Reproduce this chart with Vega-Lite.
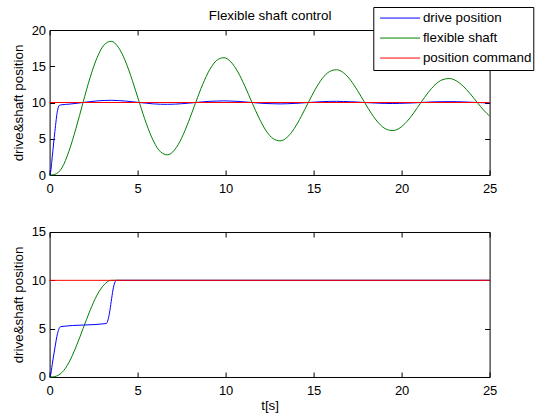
{
  "$schema": "https://vega.github.io/schema/vega-lite/v6.json",
  "padding": {"left": 10.6, "top": 6, "right": 0, "bottom": 0},
  "background": "white",
  "config": {
    "font": "Liberation Sans",
    "view": {"stroke": "black", "strokeWidth": 1},
    "axis": {
      "grid": false, "domain": false, "ticks": true, "tickColor": "black", "tickSize": -5, "tickWidth": 1,
      "labelFontSize": 13, "labelColor": "black", "labelFlush": false, "labelOverlap": false,
      "titleFontSize": 13.4, "titleColor": "black", "titleFontWeight": "normal"
    },
    "axisX": {"labelPadding": 12.6, "titlePadding": 1},
    "axisY": {"labelPadding": 9, "titlePadding": 5.5}
  },
  "datasets": {
    "top": [
      {"s": "flexible shaft", "t": 0, "v": 0}, {"s": "flexible shaft", "t": 0.2, "v": 0.03}, {"s": "flexible shaft", "t": 0.4, "v": 0.2}, {"s": "flexible shaft", "t": 0.6, "v": 0.62}, {"s": "flexible shaft", "t": 0.7, "v": 0.98},
      {"s": "flexible shaft", "t": 1.1, "v": 3.29}, {"s": "flexible shaft", "t": 1.5, "v": 6.44}, {"s": "flexible shaft", "t": 1.9, "v": 10}, {"s": "flexible shaft", "t": 2.3, "v": 13.42}, {"s": "flexible shaft", "t": 2.7, "v": 16.2},
      {"s": "flexible shaft", "t": 3.1, "v": 17.95}, {"s": "flexible shaft", "t": 3.5, "v": 18.44}, {"s": "flexible shaft", "t": 3.9, "v": 17.64}, {"s": "flexible shaft", "t": 4.3, "v": 15.74}, {"s": "flexible shaft", "t": 4.7, "v": 13.05},
      {"s": "flexible shaft", "t": 5.1, "v": 10}, {"s": "flexible shaft", "t": 5.5, "v": 7.07}, {"s": "flexible shaft", "t": 5.9, "v": 4.69}, {"s": "flexible shaft", "t": 6.3, "v": 3.2}, {"s": "flexible shaft", "t": 6.7, "v": 2.78},
      {"s": "flexible shaft", "t": 7.1, "v": 3.46}, {"s": "flexible shaft", "t": 7.5, "v": 5.09}, {"s": "flexible shaft", "t": 7.9, "v": 7.39}, {"s": "flexible shaft", "t": 8.3, "v": 10}, {"s": "flexible shaft", "t": 8.7, "v": 12.51},
      {"s": "flexible shaft", "t": 9.1, "v": 14.54}, {"s": "flexible shaft", "t": 9.5, "v": 15.82}, {"s": "flexible shaft", "t": 9.9, "v": 16.18}, {"s": "flexible shaft", "t": 10.3, "v": 15.6}, {"s": "flexible shaft", "t": 10.7, "v": 14.2},
      {"s": "flexible shaft", "t": 11.1, "v": 12.23}, {"s": "flexible shaft", "t": 11.5, "v": 10}, {"s": "flexible shaft", "t": 11.9, "v": 7.86}, {"s": "flexible shaft", "t": 12.3, "v": 6.11}, {"s": "flexible shaft", "t": 12.7, "v": 5.02},
      {"s": "flexible shaft", "t": 13.1, "v": 4.71}, {"s": "flexible shaft", "t": 13.5, "v": 5.21}, {"s": "flexible shaft", "t": 13.9, "v": 6.41}, {"s": "flexible shaft", "t": 14.3, "v": 8.09}, {"s": "flexible shaft", "t": 14.7, "v": 10},
      {"s": "flexible shaft", "t": 15.1, "v": 11.84}, {"s": "flexible shaft", "t": 15.5, "v": 13.33}, {"s": "flexible shaft", "t": 15.9, "v": 14.26}, {"s": "flexible shaft", "t": 16.3, "v": 14.52}, {"s": "flexible shaft", "t": 16.7, "v": 14.1},
      {"s": "flexible shaft", "t": 17.1, "v": 13.08}, {"s": "flexible shaft", "t": 17.5, "v": 11.63}, {"s": "flexible shaft", "t": 17.9, "v": 10}, {"s": "flexible shaft", "t": 18.3, "v": 8.43}, {"s": "flexible shaft", "t": 18.7, "v": 7.15},
      {"s": "flexible shaft", "t": 19.1, "v": 6.35}, {"s": "flexible shaft", "t": 19.5, "v": 6.13}, {"s": "flexible shaft", "t": 19.9, "v": 6.49}, {"s": "flexible shaft", "t": 20.3, "v": 7.37}, {"s": "flexible shaft", "t": 20.7, "v": 8.6},
      {"s": "flexible shaft", "t": 21.1, "v": 10}, {"s": "flexible shaft", "t": 21.5, "v": 11.34}, {"s": "flexible shaft", "t": 21.9, "v": 12.44}, {"s": "flexible shaft", "t": 22.3, "v": 13.12}, {"s": "flexible shaft", "t": 22.7, "v": 13.31},
      {"s": "flexible shaft", "t": 23.1, "v": 13.0}, {"s": "flexible shaft", "t": 23.5, "v": 12.25}, {"s": "flexible shaft", "t": 23.9, "v": 11.2}, {"s": "flexible shaft", "t": 24.3, "v": 10}, {"s": "flexible shaft", "t": 24.7, "v": 8.85},
      {"s": "flexible shaft", "t": 25, "v": 8.13},
      {"s": "drive position", "t": 0, "v": 0}, {"s": "drive position", "t": 0.05, "v": 0.3}, {"s": "drive position", "t": 0.15, "v": 2.5}, {"s": "drive position", "t": 0.3, "v": 6.0}, {"s": "drive position", "t": 0.45, "v": 8.9},
      {"s": "drive position", "t": 0.55, "v": 9.6}, {"s": "drive position", "t": 0.7, "v": 9.69}, {"s": "drive position", "t": 1.1, "v": 9.77}, {"s": "drive position", "t": 1.5, "v": 9.88}, {"s": "drive position", "t": 1.9, "v": 10},
      {"s": "drive position", "t": 2.3, "v": 10.12}, {"s": "drive position", "t": 2.7, "v": 10.22}, {"s": "drive position", "t": 3.1, "v": 10.28}, {"s": "drive position", "t": 3.5, "v": 10.3}, {"s": "drive position", "t": 3.9, "v": 10.27},
      {"s": "drive position", "t": 4.3, "v": 10.2}, {"s": "drive position", "t": 4.7, "v": 10.11}, {"s": "drive position", "t": 5.1, "v": 10}, {"s": "drive position", "t": 5.5, "v": 9.9}, {"s": "drive position", "t": 5.9, "v": 9.81},
      {"s": "drive position", "t": 6.3, "v": 9.76}, {"s": "drive position", "t": 6.7, "v": 9.75}, {"s": "drive position", "t": 7.1, "v": 9.77}, {"s": "drive position", "t": 7.5, "v": 9.83}, {"s": "drive position", "t": 7.9, "v": 9.91},
      {"s": "drive position", "t": 8.3, "v": 10}, {"s": "drive position", "t": 8.7, "v": 10.09}, {"s": "drive position", "t": 9.1, "v": 10.16}, {"s": "drive position", "t": 9.5, "v": 10.2}, {"s": "drive position", "t": 9.9, "v": 10.22},
      {"s": "drive position", "t": 10.3, "v": 10.2}, {"s": "drive position", "t": 10.7, "v": 10.15}, {"s": "drive position", "t": 11.1, "v": 10.08}, {"s": "drive position", "t": 11.5, "v": 10}, {"s": "drive position", "t": 11.9, "v": 9.92},
      {"s": "drive position", "t": 12.3, "v": 9.86}, {"s": "drive position", "t": 12.7, "v": 9.83}, {"s": "drive position", "t": 13.1, "v": 9.81}, {"s": "drive position", "t": 13.5, "v": 9.83}, {"s": "drive position", "t": 13.9, "v": 9.87},
      {"s": "drive position", "t": 14.3, "v": 9.93}, {"s": "drive position", "t": 14.7, "v": 10}, {"s": "drive position", "t": 15.1, "v": 10.06}, {"s": "drive position", "t": 15.5, "v": 10.12}, {"s": "drive position", "t": 15.9, "v": 10.15},
      {"s": "drive position", "t": 16.3, "v": 10.16}, {"s": "drive position", "t": 16.7, "v": 10.14}, {"s": "drive position", "t": 17.1, "v": 10.11}, {"s": "drive position", "t": 17.5, "v": 10.06}, {"s": "drive position", "t": 17.9, "v": 10},
      {"s": "drive position", "t": 18.3, "v": 9.95}, {"s": "drive position", "t": 18.7, "v": 9.9}, {"s": "drive position", "t": 19.1, "v": 9.87}, {"s": "drive position", "t": 19.5, "v": 9.86}, {"s": "drive position", "t": 19.9, "v": 9.88},
      {"s": "drive position", "t": 20.3, "v": 9.91}, {"s": "drive position", "t": 20.7, "v": 9.95}, {"s": "drive position", "t": 21.1, "v": 10}, {"s": "drive position", "t": 21.5, "v": 10.05}, {"s": "drive position", "t": 21.9, "v": 10.09},
      {"s": "drive position", "t": 22.3, "v": 10.11}, {"s": "drive position", "t": 22.7, "v": 10.12}, {"s": "drive position", "t": 23.1, "v": 10.11}, {"s": "drive position", "t": 23.5, "v": 10.08}, {"s": "drive position", "t": 23.9, "v": 10.04},
      {"s": "drive position", "t": 24.3, "v": 10}, {"s": "drive position", "t": 24.7, "v": 9.96}, {"s": "drive position", "t": 25, "v": 9.93},
      {"s": "position command", "t": 0, "v": 10}, {"s": "position command", "t": 25, "v": 10}
    ],
    "bottom": [
      {"s": "flexible shaft", "t": 0, "v": 0}, {"s": "flexible shaft", "t": 0.2, "v": 0.015}, {"s": "flexible shaft", "t": 0.4, "v": 0.1}, {"s": "flexible shaft", "t": 0.6, "v": 0.31}, {"s": "flexible shaft", "t": 0.7, "v": 0.46},
      {"s": "flexible shaft", "t": 1.1, "v": 1.51}, {"s": "flexible shaft", "t": 1.5, "v": 3.11}, {"s": "flexible shaft", "t": 1.9, "v": 5.0}, {"s": "flexible shaft", "t": 2.3, "v": 6.89}, {"s": "flexible shaft", "t": 2.7, "v": 8.49},
      {"s": "flexible shaft", "t": 3.1, "v": 9.55}, {"s": "flexible shaft", "t": 3.5, "v": 10}, {"s": "flexible shaft", "t": 25, "v": 10},
      {"s": "drive position", "t": 0, "v": 0}, {"s": "drive position", "t": 0.05, "v": 0.15}, {"s": "drive position", "t": 0.15, "v": 1.3}, {"s": "drive position", "t": 0.3, "v": 3.0}, {"s": "drive position", "t": 0.45, "v": 4.5},
      {"s": "drive position", "t": 0.55, "v": 5.05}, {"s": "drive position", "t": 0.65, "v": 5.22}, {"s": "drive position", "t": 3.22, "v": 5.53}, {"s": "drive position", "t": 3.3, "v": 5.8}, {"s": "drive position", "t": 3.4, "v": 6.6},
      {"s": "drive position", "t": 3.5, "v": 7.8}, {"s": "drive position", "t": 3.6, "v": 9.0}, {"s": "drive position", "t": 3.7, "v": 9.75}, {"s": "drive position", "t": 3.8, "v": 10}, {"s": "drive position", "t": 25, "v": 10},
      {"s": "position command", "t": 0, "v": 10}, {"s": "position command", "t": 25, "v": 10}
    ]
  },
  "bounds": "flush",
  "spacing": 57,
  "resolve": {"legend": {"color": "independent"}},
  "vconcat": [
    {
      "width": 440,
      "height": 145,
      "layer": [
        {
          "data": {"name": "top"},
          "transform": [{"filter": "datum.s !== 'position command'"}],
          "mark": {"type": "line", "interpolate": "monotone", "strokeWidth": 1},
          "encoding": {
            "x": {"field": "t", "type": "quantitative", "scale": {"domain": [0, 25], "nice": false},
                  "axis": {"orient": "bottom", "values": [0, 5, 10, 15, 20, 25], "title": null}},
            "y": {"field": "v", "type": "quantitative", "scale": {"domain": [0, 20], "nice": false},
                  "axis": {"orient": "left", "values": [0, 5, 10, 15, 20], "title": "drive&shaft position"}},
            "color": {"field": "s", "type": "nominal",
                      "scale": {"domain": ["drive position", "flexible shaft", "position command"], "range": ["#0000ff", "#008000", "#ff0000"]},
                      "legend": {"orient": "none", "legendX": 323.7, "legendY": -23, "title": null,
                                 "symbolType": "stroke", "symbolSize": 1600, "symbolStrokeWidth": 1, "symbolOffset": 5,
                                 "labelOffset": 2.3, "labelFontSize": 13.4, "labelColor": "black", "labelLimit": 0,
                                 "padding": 1.3, "clipHeight": 19.5, "rowPadding": 0,
                                 "strokeColor": "black", "fillColor": "white", "cornerRadius": 0}}
          }
        },
        {
          "data": {"name": "top"},
          "transform": [{"filter": "datum.s === 'position command'"}],
          "mark": {"type": "line", "interpolate": "monotone", "strokeWidth": 1},
          "encoding": {
            "x": {"field": "t", "type": "quantitative", "scale": {"domain": [0, 25], "nice": false},
                  "axis": {"orient": "top", "values": [0, 5, 10, 15, 20, 25], "labels": false, "title": "Flexible shaft control", "titlePadding": 7}},
            "y": {"field": "v", "type": "quantitative", "scale": {"domain": [0, 20], "nice": false},
                  "axis": {"orient": "right", "values": [0, 5, 10, 15, 20], "labels": false, "title": null}},
            "color": {"field": "s", "type": "nominal"}
          }
        }
      ],
      "resolve": {"axis": {"x": "independent", "y": "independent"}}
    },
    {
      "width": 440,
      "height": 145,
      "layer": [
        {
          "data": {"name": "bottom"},
          "transform": [{"filter": "datum.s !== 'position command'"}],
          "mark": {"type": "line", "interpolate": "monotone", "strokeWidth": 1},
          "encoding": {
            "x": {"field": "t", "type": "quantitative", "scale": {"domain": [0, 25], "nice": false},
                  "axis": {"orient": "bottom", "values": [0, 5, 10, 15, 20, 25], "title": "t[s]"}},
            "y": {"field": "v", "type": "quantitative", "scale": {"domain": [0, 15], "nice": false},
                  "axis": {"orient": "left", "values": [0, 5, 10, 15], "title": "drive&shaft position"}},
            "color": {"field": "s", "type": "nominal",
                      "scale": {"domain": ["drive position", "flexible shaft", "position command"], "range": ["#0000ff", "#008000", "#ff0000"]},
                      "legend": null}
          }
        },
        {
          "data": {"name": "bottom"},
          "transform": [{"filter": "datum.s === 'position command'"}],
          "mark": {"type": "line", "interpolate": "monotone", "strokeWidth": 1},
          "encoding": {
            "x": {"field": "t", "type": "quantitative", "scale": {"domain": [0, 25], "nice": false},
                  "axis": {"orient": "top", "values": [0, 5, 10, 15, 20, 25], "labels": false, "title": null}},
            "y": {"field": "v", "type": "quantitative", "scale": {"domain": [0, 15], "nice": false},
                  "axis": {"orient": "right", "values": [0, 5, 10, 15], "labels": false, "title": null}},
            "color": {"field": "s", "type": "nominal", "legend": null}
          }
        }
      ],
      "resolve": {"axis": {"x": "independent", "y": "independent"}}
    }
  ]
}
